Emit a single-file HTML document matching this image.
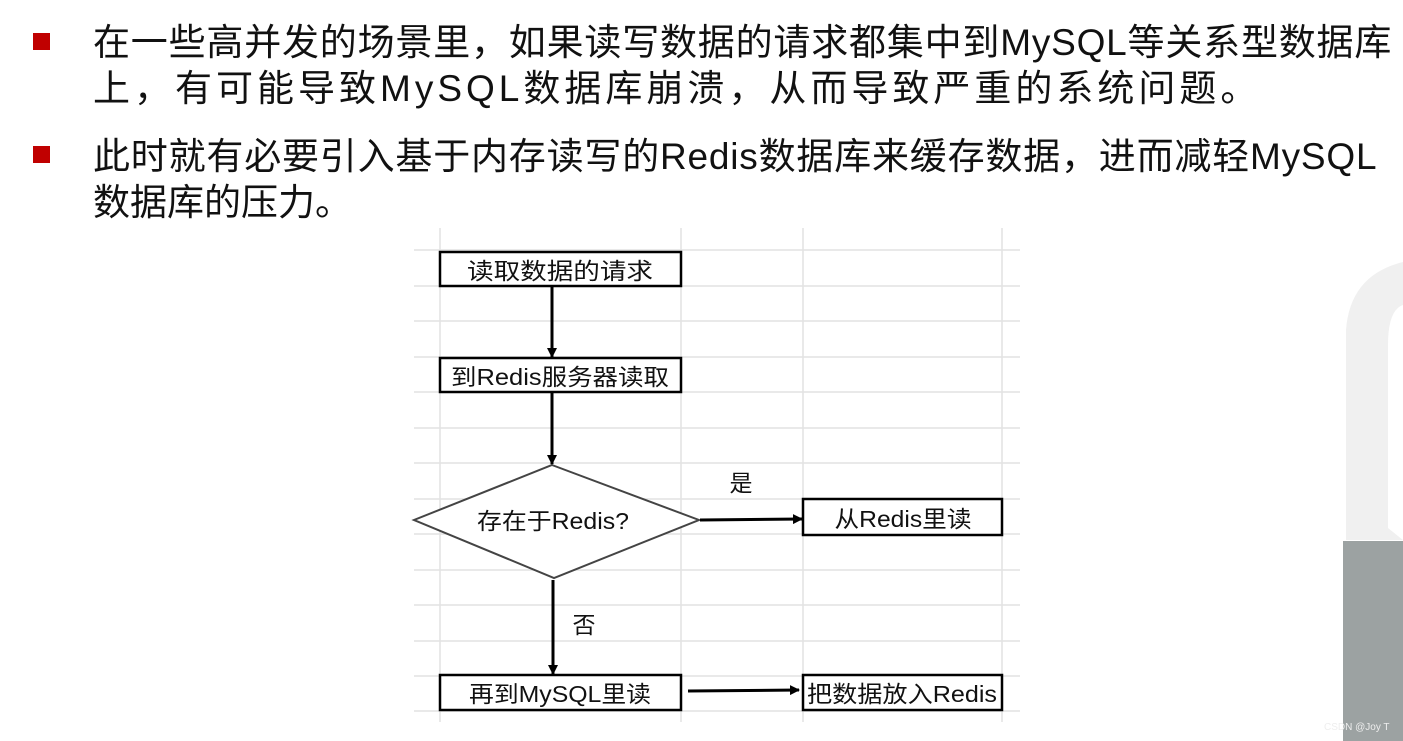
<!DOCTYPE html>
<html><head><meta charset="utf-8"><style>
body{margin:0;width:1403px;height:741px;background:#fff;position:relative;overflow:hidden;font-family:"Liberation Sans","Noto Sans CJK SC",sans-serif;}
.t{position:absolute;left:93px;font-size:37px;line-height:42px;color:#111;white-space:nowrap;}
.b{position:absolute;left:33px;width:17px;height:17px;background:#c00000;}
</style></head><body>
<div class="b" style="top:33px"></div>
<div class="t" style="top:22px;letter-spacing:0.8px">在一些高并发的场景里，如果读写数据的请求都集中到MySQL等关系型数据库</div>
<div class="t" style="top:68px;letter-spacing:4px">上，有可能导致MySQL数据库崩溃，从而导致严重的系统问题。</div>
<div class="b" style="top:146px"></div>
<div class="t" style="top:136px;letter-spacing:0.8px">此时就有必要引入基于内存读写的Redis数据库来缓存数据，进而减轻MySQL</div>
<div class="t" style="top:182px">数据库的压力。</div>
<svg width="1403" height="741" style="position:absolute;left:0;top:0" font-family="Liberation Sans, Noto Sans CJK SC, sans-serif">
<defs><marker id="a" markerWidth="10" markerHeight="10" refX="9" refY="5" orient="auto" markerUnits="userSpaceOnUse"><path d="M0,0L10,5L0,10z" fill="#000"/></marker></defs>
<path d="M1346,540 L1346,330 Q1350,275 1403,262 L1403,305 Q1388,310 1388,345 L1388,528 L1403,540 Z" fill="#f0f0f0"/>
<rect x="1343" y="541" width="60" height="200" fill="#9ca2a2"/>
<text x="1324" y="730" font-size="10" fill="#eee">CSDN @Joy T</text>
<g stroke="#e2e2e2" stroke-width="1.5">
<line x1="414" y1="250" x2="1020" y2="250"/><line x1="414" y1="286" x2="1020" y2="286"/>
<line x1="414" y1="321" x2="1020" y2="321"/><line x1="414" y1="357" x2="1020" y2="357"/>
<line x1="414" y1="392" x2="1020" y2="392"/><line x1="414" y1="428" x2="1020" y2="428"/>
<line x1="414" y1="463" x2="1020" y2="463"/><line x1="414" y1="499" x2="1020" y2="499"/>
<line x1="414" y1="534" x2="1020" y2="534"/><line x1="414" y1="570" x2="1020" y2="570"/>
<line x1="414" y1="605" x2="1020" y2="605"/><line x1="414" y1="641" x2="1020" y2="641"/>
<line x1="414" y1="676" x2="1020" y2="676"/><line x1="414" y1="711" x2="1020" y2="711"/>
<line x1="440" y1="228" x2="440" y2="722"/><line x1="681" y1="228" x2="681" y2="722"/>
<line x1="803" y1="228" x2="803" y2="722"/><line x1="1002" y1="228" x2="1002" y2="722"/>
</g>
<g fill="#fff" stroke="#000" stroke-width="2.5">
<rect x="440" y="252" width="241" height="34"/>
<rect x="440" y="358" width="241" height="34"/>
<rect x="803" y="499" width="199" height="36"/>
<rect x="440" y="675" width="241" height="35"/>
<rect x="803" y="675" width="199" height="35"/>
</g>
<polygon points="552,465 699,520 554,578 414,520" fill="#fff" stroke="#444" stroke-width="2"/>
<g stroke="#000" stroke-width="3" marker-end="url(#a)">
<line x1="552" y1="286" x2="552" y2="357"/>
<line x1="552" y1="392" x2="552" y2="464"/>
<line x1="553" y1="580" x2="553" y2="674"/>
<line x1="700" y1="520" x2="802" y2="519"/>
<line x1="688" y1="691" x2="799" y2="690"/>
</g>
<g font-size="23" fill="#111" text-anchor="middle">
<text x="560" y="279" textLength="186" lengthAdjust="spacingAndGlyphs">读取数据的请求</text>
<text x="560" y="385" textLength="218" lengthAdjust="spacingAndGlyphs">到Redis服务器读取</text>
<text x="553" y="529" textLength="152" lengthAdjust="spacingAndGlyphs">存在于Redis?</text>
<text x="903" y="527" textLength="137" lengthAdjust="spacingAndGlyphs">从Redis里读</text>
<text x="560" y="702" textLength="182" lengthAdjust="spacingAndGlyphs">再到MySQL里读</text>
<text x="902" y="702" textLength="190" lengthAdjust="spacingAndGlyphs">把数据放入Redis</text>
<text x="741" y="491">是</text>
<text x="584" y="633">否</text>
</g>
</svg>
</body></html>
